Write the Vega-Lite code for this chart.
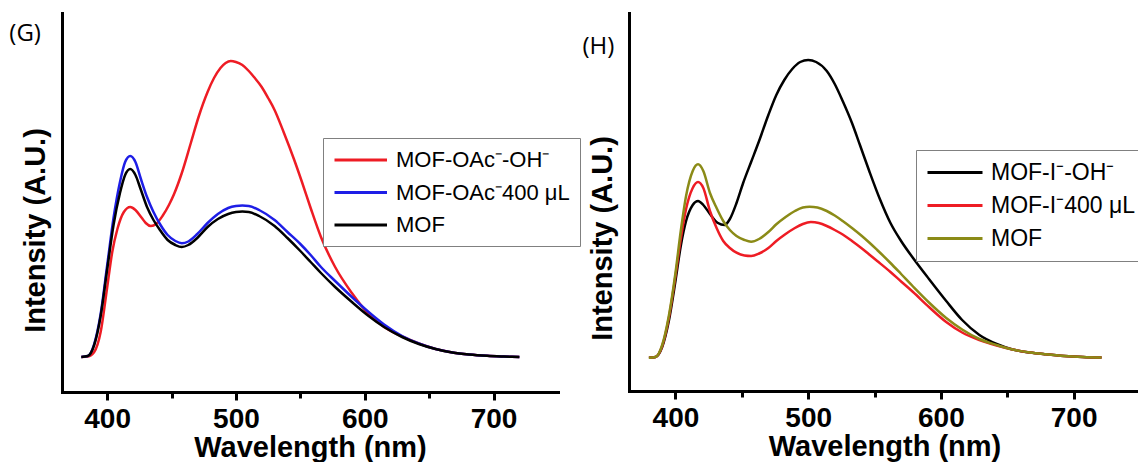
{
  "$schema": "https://vega.github.io/schema/vega-lite/v6.json",
  "background": "white",
  "padding": {"left": 9, "top": 13, "right": 0, "bottom": 0},
  "bounds": "flush",
  "spacing": 71,
  "datasets": {
    "g": [
      {"s":"MOF-OAc⁻-OH⁻","w":380,"v":35},{"s":"MOF-OAc⁻-OH⁻","w":385,"v":35.5},{"s":"MOF-OAc⁻-OH⁻","w":390,"v":40},{"s":"MOF-OAc⁻-OH⁻","w":395,"v":60},{"s":"MOF-OAc⁻-OH⁻","w":400,"v":104},{"s":"MOF-OAc⁻-OH⁻","w":404,"v":140},{"s":"MOF-OAc⁻-OH⁻","w":408,"v":163},{"s":"MOF-OAc⁻-OH⁻","w":413,"v":180},{"s":"MOF-OAc⁻-OH⁻","w":418,"v":185},{"s":"MOF-OAc⁻-OH⁻","w":422,"v":182},{"s":"MOF-OAc⁻-OH⁻","w":427,"v":174},{"s":"MOF-OAc⁻-OH⁻","w":430,"v":169},{"s":"MOF-OAc⁻-OH⁻","w":434,"v":166},{"s":"MOF-OAc⁻-OH⁻","w":438,"v":168},{"s":"MOF-OAc⁻-OH⁻","w":443,"v":176},{"s":"MOF-OAc⁻-OH⁻","w":448,"v":187},{"s":"MOF-OAc⁻-OH⁻","w":452,"v":198},{"s":"MOF-OAc⁻-OH⁻","w":458,"v":219},{"s":"MOF-OAc⁻-OH⁻","w":465,"v":249},{"s":"MOF-OAc⁻-OH⁻","w":471,"v":275},{"s":"MOF-OAc⁻-OH⁻","w":478,"v":300},{"s":"MOF-OAc⁻-OH⁻","w":483,"v":314},{"s":"MOF-OAc⁻-OH⁻","w":488,"v":324},{"s":"MOF-OAc⁻-OH⁻","w":492,"v":329},{"s":"MOF-OAc⁻-OH⁻","w":496,"v":331},{"s":"MOF-OAc⁻-OH⁻","w":500,"v":330},{"s":"MOF-OAc⁻-OH⁻","w":505,"v":327},{"s":"MOF-OAc⁻-OH⁻","w":510,"v":321},{"s":"MOF-OAc⁻-OH⁻","w":514,"v":315},{"s":"MOF-OAc⁻-OH⁻","w":520,"v":305},{"s":"MOF-OAc⁻-OH⁻","w":525,"v":294},{"s":"MOF-OAc⁻-OH⁻","w":530,"v":282},{"s":"MOF-OAc⁻-OH⁻","w":537,"v":260},{"s":"MOF-OAc⁻-OH⁻","w":545,"v":233},{"s":"MOF-OAc⁻-OH⁻","w":551,"v":211},{"s":"MOF-OAc⁻-OH⁻","w":558,"v":184},{"s":"MOF-OAc⁻-OH⁻","w":566,"v":155},{"s":"MOF-OAc⁻-OH⁻","w":577,"v":125},{"s":"MOF-OAc⁻-OH⁻","w":590,"v":99},{"s":"MOF-OAc⁻-OH⁻","w":603,"v":78},{"s":"MOF-OAc⁻-OH⁻","w":615,"v":65},{"s":"MOF-OAc⁻-OH⁻","w":629,"v":55.5},{"s":"MOF-OAc⁻-OH⁻","w":642,"v":48.5},{"s":"MOF-OAc⁻-OH⁻","w":655,"v":43},{"s":"MOF-OAc⁻-OH⁻","w":668,"v":39.5},{"s":"MOF-OAc⁻-OH⁻","w":681,"v":37.5},{"s":"MOF-OAc⁻-OH⁻","w":695,"v":36.2},{"s":"MOF-OAc⁻-OH⁻","w":708,"v":35.5},{"s":"MOF-OAc⁻-OH⁻","w":720,"v":35},
      {"s":"MOF-OAc⁻400 μL","w":380,"v":35},{"s":"MOF-OAc⁻400 μL","w":385,"v":36},{"s":"MOF-OAc⁻400 μL","w":390,"v":48},{"s":"MOF-OAc⁻400 μL","w":395,"v":78},{"s":"MOF-OAc⁻400 μL","w":400,"v":126},{"s":"MOF-OAc⁻400 μL","w":405,"v":174},{"s":"MOF-OAc⁻400 μL","w":410,"v":210},{"s":"MOF-OAc⁻400 μL","w":414,"v":230},{"s":"MOF-OAc⁻400 μL","w":418,"v":236},{"s":"MOF-OAc⁻400 μL","w":422,"v":230},{"s":"MOF-OAc⁻400 μL","w":426,"v":214},{"s":"MOF-OAc⁻400 μL","w":431,"v":195},{"s":"MOF-OAc⁻400 μL","w":436,"v":180},{"s":"MOF-OAc⁻400 μL","w":441,"v":168},{"s":"MOF-OAc⁻400 μL","w":447,"v":157},{"s":"MOF-OAc⁻400 μL","w":453,"v":151},{"s":"MOF-OAc⁻400 μL","w":458,"v":148.7},{"s":"MOF-OAc⁻400 μL","w":463,"v":150.5},{"s":"MOF-OAc⁻400 μL","w":470,"v":158},{"s":"MOF-OAc⁻400 μL","w":478,"v":169},{"s":"MOF-OAc⁻400 μL","w":486,"v":178},{"s":"MOF-OAc⁻400 μL","w":494,"v":184},{"s":"MOF-OAc⁻400 μL","w":500,"v":186},{"s":"MOF-OAc⁻400 μL","w":505,"v":186.5},{"s":"MOF-OAc⁻400 μL","w":510,"v":186},{"s":"MOF-OAc⁻400 μL","w":518,"v":182},{"s":"MOF-OAc⁻400 μL","w":530,"v":172},{"s":"MOF-OAc⁻400 μL","w":540,"v":160},{"s":"MOF-OAc⁻400 μL","w":550,"v":148},{"s":"MOF-OAc⁻400 μL","w":558,"v":137},{"s":"MOF-OAc⁻400 μL","w":566,"v":125},{"s":"MOF-OAc⁻400 μL","w":577,"v":111},{"s":"MOF-OAc⁻400 μL","w":590,"v":95},{"s":"MOF-OAc⁻400 μL","w":603,"v":80},{"s":"MOF-OAc⁻400 μL","w":615,"v":67.5},{"s":"MOF-OAc⁻400 μL","w":629,"v":56},{"s":"MOF-OAc⁻400 μL","w":642,"v":48.5},{"s":"MOF-OAc⁻400 μL","w":655,"v":43},{"s":"MOF-OAc⁻400 μL","w":668,"v":39.5},{"s":"MOF-OAc⁻400 μL","w":681,"v":37.5},{"s":"MOF-OAc⁻400 μL","w":695,"v":36.2},{"s":"MOF-OAc⁻400 μL","w":708,"v":35.5},{"s":"MOF-OAc⁻400 μL","w":720,"v":35},
      {"s":"MOF","w":380,"v":35},{"s":"MOF","w":385,"v":36},{"s":"MOF","w":390,"v":47},{"s":"MOF","w":395,"v":76},{"s":"MOF","w":400,"v":122},{"s":"MOF","w":405,"v":167},{"s":"MOF","w":410,"v":199},{"s":"MOF","w":414,"v":217},{"s":"MOF","w":418,"v":223},{"s":"MOF","w":422,"v":217},{"s":"MOF","w":426,"v":203},{"s":"MOF","w":431,"v":185},{"s":"MOF","w":436,"v":172},{"s":"MOF","w":441,"v":162},{"s":"MOF","w":447,"v":152},{"s":"MOF","w":453,"v":147},{"s":"MOF","w":458,"v":145},{"s":"MOF","w":463,"v":147},{"s":"MOF","w":470,"v":154},{"s":"MOF","w":478,"v":165},{"s":"MOF","w":486,"v":173},{"s":"MOF","w":494,"v":178},{"s":"MOF","w":500,"v":180},{"s":"MOF","w":505,"v":180.5},{"s":"MOF","w":510,"v":180},{"s":"MOF","w":518,"v":176},{"s":"MOF","w":530,"v":166},{"s":"MOF","w":540,"v":154},{"s":"MOF","w":550,"v":141},{"s":"MOF","w":558,"v":130},{"s":"MOF","w":566,"v":119},{"s":"MOF","w":577,"v":105},{"s":"MOF","w":590,"v":90},{"s":"MOF","w":603,"v":76},{"s":"MOF","w":615,"v":65},{"s":"MOF","w":629,"v":55},{"s":"MOF","w":642,"v":48},{"s":"MOF","w":655,"v":43},{"s":"MOF","w":668,"v":39.5},{"s":"MOF","w":681,"v":37.5},{"s":"MOF","w":695,"v":36.2},{"s":"MOF","w":708,"v":35.5},{"s":"MOF","w":720,"v":35}
    ],
    "h": [
      {"s":"MOF-I⁻-OH⁻","w":380,"v":33.3},{"s":"MOF-I⁻-OH⁻","w":385,"v":34},{"s":"MOF-I⁻-OH⁻","w":390,"v":44},{"s":"MOF-I⁻-OH⁻","w":395,"v":70},{"s":"MOF-I⁻-OH⁻","w":400,"v":110},{"s":"MOF-I⁻-OH⁻","w":404,"v":145},{"s":"MOF-I⁻-OH⁻","w":408,"v":170},{"s":"MOF-I⁻-OH⁻","w":413,"v":186},{"s":"MOF-I⁻-OH⁻","w":417,"v":190},{"s":"MOF-I⁻-OH⁻","w":421,"v":186},{"s":"MOF-I⁻-OH⁻","w":426,"v":177},{"s":"MOF-I⁻-OH⁻","w":432,"v":168},{"s":"MOF-I⁻-OH⁻","w":437,"v":166},{"s":"MOF-I⁻-OH⁻","w":441,"v":172},{"s":"MOF-I⁻-OH⁻","w":446,"v":188},{"s":"MOF-I⁻-OH⁻","w":451,"v":208},{"s":"MOF-I⁻-OH⁻","w":457,"v":229},{"s":"MOF-I⁻-OH⁻","w":463,"v":250},{"s":"MOF-I⁻-OH⁻","w":470,"v":276},{"s":"MOF-I⁻-OH⁻","w":476,"v":296},{"s":"MOF-I⁻-OH⁻","w":482,"v":311},{"s":"MOF-I⁻-OH⁻","w":488,"v":322},{"s":"MOF-I⁻-OH⁻","w":494,"v":329},{"s":"MOF-I⁻-OH⁻","w":500,"v":331},{"s":"MOF-I⁻-OH⁻","w":506,"v":329},{"s":"MOF-I⁻-OH⁻","w":514,"v":320},{"s":"MOF-I⁻-OH⁻","w":520,"v":307},{"s":"MOF-I⁻-OH⁻","w":526,"v":290},{"s":"MOF-I⁻-OH⁻","w":533,"v":268},{"s":"MOF-I⁻-OH⁻","w":539,"v":246},{"s":"MOF-I⁻-OH⁻","w":546,"v":220},{"s":"MOF-I⁻-OH⁻","w":554,"v":192},{"s":"MOF-I⁻-OH⁻","w":562,"v":168},{"s":"MOF-I⁻-OH⁻","w":570,"v":150},{"s":"MOF-I⁻-OH⁻","w":579,"v":133},{"s":"MOF-I⁻-OH⁻","w":591,"v":112},{"s":"MOF-I⁻-OH⁻","w":604,"v":90},{"s":"MOF-I⁻-OH⁻","w":616,"v":71},{"s":"MOF-I⁻-OH⁻","w":629,"v":56},{"s":"MOF-I⁻-OH⁻","w":642,"v":47},{"s":"MOF-I⁻-OH⁻","w":654,"v":41.5},{"s":"MOF-I⁻-OH⁻","w":667,"v":38.5},{"s":"MOF-I⁻-OH⁻","w":679,"v":36.7},{"s":"MOF-I⁻-OH⁻","w":693,"v":35},{"s":"MOF-I⁻-OH⁻","w":707,"v":34},{"s":"MOF-I⁻-OH⁻","w":721,"v":33.5},
      {"s":"MOF-I⁻400 μL","w":380,"v":33.3},{"s":"MOF-I⁻400 μL","w":385,"v":34},{"s":"MOF-I⁻400 μL","w":390,"v":45},{"s":"MOF-I⁻400 μL","w":395,"v":73},{"s":"MOF-I⁻400 μL","w":400,"v":115},{"s":"MOF-I⁻400 μL","w":404,"v":152},{"s":"MOF-I⁻400 μL","w":408,"v":182},{"s":"MOF-I⁻400 μL","w":413,"v":203},{"s":"MOF-I⁻400 μL","w":417,"v":209},{"s":"MOF-I⁻400 μL","w":421,"v":203},{"s":"MOF-I⁻400 μL","w":426,"v":180},{"s":"MOF-I⁻400 μL","w":431,"v":163},{"s":"MOF-I⁻400 μL","w":436,"v":150},{"s":"MOF-I⁻400 μL","w":441,"v":143},{"s":"MOF-I⁻400 μL","w":446,"v":138.3},{"s":"MOF-I⁻400 μL","w":452,"v":135.5},{"s":"MOF-I⁻400 μL","w":457,"v":135},{"s":"MOF-I⁻400 μL","w":463,"v":137.5},{"s":"MOF-I⁻400 μL","w":470,"v":143},{"s":"MOF-I⁻400 μL","w":476,"v":150},{"s":"MOF-I⁻400 μL","w":483,"v":157},{"s":"MOF-I⁻400 μL","w":490,"v":163},{"s":"MOF-I⁻400 μL","w":496,"v":167},{"s":"MOF-I⁻400 μL","w":502,"v":169},{"s":"MOF-I⁻400 μL","w":508,"v":168},{"s":"MOF-I⁻400 μL","w":514,"v":165},{"s":"MOF-I⁻400 μL","w":520,"v":161},{"s":"MOF-I⁻400 μL","w":526,"v":156.5},{"s":"MOF-I⁻400 μL","w":533,"v":150},{"s":"MOF-I⁻400 μL","w":540,"v":143},{"s":"MOF-I⁻400 μL","w":546,"v":136.5},{"s":"MOF-I⁻400 μL","w":552,"v":130},{"s":"MOF-I⁻400 μL","w":562,"v":119},{"s":"MOF-I⁻400 μL","w":570,"v":109.5},{"s":"MOF-I⁻400 μL","w":579,"v":99},{"s":"MOF-I⁻400 μL","w":591,"v":84},{"s":"MOF-I⁻400 μL","w":604,"v":69},{"s":"MOF-I⁻400 μL","w":616,"v":58.5},{"s":"MOF-I⁻400 μL","w":629,"v":51},{"s":"MOF-I⁻400 μL","w":642,"v":45.5},{"s":"MOF-I⁻400 μL","w":654,"v":41.5},{"s":"MOF-I⁻400 μL","w":667,"v":38.5},{"s":"MOF-I⁻400 μL","w":679,"v":36.7},{"s":"MOF-I⁻400 μL","w":693,"v":35},{"s":"MOF-I⁻400 μL","w":707,"v":34},{"s":"MOF-I⁻400 μL","w":721,"v":33.5},
      {"s":"MOF","w":380,"v":33.3},{"s":"MOF","w":385,"v":34},{"s":"MOF","w":390,"v":46},{"s":"MOF","w":395,"v":75},{"s":"MOF","w":400,"v":118},{"s":"MOF","w":404,"v":160},{"s":"MOF","w":408,"v":195},{"s":"MOF","w":413,"v":220},{"s":"MOF","w":417,"v":226.7},{"s":"MOF","w":421,"v":220},{"s":"MOF","w":426,"v":198},{"s":"MOF","w":431,"v":183},{"s":"MOF","w":436,"v":170},{"s":"MOF","w":441,"v":161},{"s":"MOF","w":446,"v":155},{"s":"MOF","w":452,"v":151},{"s":"MOF","w":457,"v":149.3},{"s":"MOF","w":463,"v":152},{"s":"MOF","w":470,"v":159},{"s":"MOF","w":476,"v":166.7},{"s":"MOF","w":483,"v":174},{"s":"MOF","w":490,"v":180},{"s":"MOF","w":496,"v":183.5},{"s":"MOF","w":501,"v":184.3},{"s":"MOF","w":507,"v":183.5},{"s":"MOF","w":514,"v":180},{"s":"MOF","w":520,"v":175.5},{"s":"MOF","w":526,"v":170},{"s":"MOF","w":533,"v":163},{"s":"MOF","w":540,"v":155.5},{"s":"MOF","w":546,"v":148.5},{"s":"MOF","w":552,"v":141},{"s":"MOF","w":562,"v":128},{"s":"MOF","w":570,"v":117},{"s":"MOF","w":579,"v":104.5},{"s":"MOF","w":591,"v":88.5},{"s":"MOF","w":604,"v":73},{"s":"MOF","w":616,"v":61.5},{"s":"MOF","w":629,"v":52},{"s":"MOF","w":642,"v":46},{"s":"MOF","w":654,"v":41.5},{"s":"MOF","w":667,"v":38.5},{"s":"MOF","w":679,"v":36.7},{"s":"MOF","w":693,"v":35},{"s":"MOF","w":707,"v":34},{"s":"MOF","w":721,"v":33.5}
    ]
  },
  "resolve": {"scale": {"color": "independent", "x": "independent", "y": "independent"}, "legend": {"color": "independent"}},
  "config": {
    "view": {"stroke": null},
    "font": "Liberation Sans",
    "axis": {"grid": false, "domainColor": "black", "domainWidth": 3, "domainCap": "square", "tickColor": "black", "tickWidth": 3, "labelColor": "black", "titleColor": "black", "labelFont": "Liberation Sans", "titleFont": "Liberation Sans", "labelFontWeight": "bold", "titleFontWeight": "bold"}
  },
  "hconcat": [
    {
      "width": 496,
      "height": 379,
      "title": {"text": "(G)", "anchor": "start", "frame": "group", "offset": -33, "dx": -52.7, "fontSize": 24, "font": "Open Sans", "fontWeight": "normal", "color": "black"},
      "data": {"name": "g"},
      "mark": {"type": "line", "interpolate": "monotone", "strokeWidth": 2.5},
      "encoding": {
        "x": {"field": "w", "type": "quantitative", "scale": {"domain": [365, 750], "nice": false, "zero": false},
          "axis": {"title": "Wavelength (nm)", "values": [400, 450, 500, 550, 600, 650, 700], "labelExpr": "datum.value % 100 === 0 ? datum.label : ''", "tickSize": {"condition": {"test": "datum.value % 100 === 0", "value": 8}, "value": 6}, "labelFontSize": 28, "titleFontSize": 29, "labelPadding": 5, "titlePadding": 0, "labelFlush": false, "labelOverlap": false}},
        "y": {"field": "v", "type": "quantitative", "scale": {"domain": [0, 379], "nice": false},
          "axis": {"title": "Intensity (A.U.)", "labels": false, "ticks": false, "titleFontSize": 29, "titlePadding": 12, "titleY": 217}},
        "color": {"field": "s", "type": "nominal",
          "scale": {"domain": ["MOF-OAc⁻-OH⁻", "MOF-OAc⁻400 μL", "MOF"], "range": ["#ee1c24", "#1e1ee6", "#000000"]},
          "legend": {"title": null, "orient": "none", "legendX": 261, "legendY": 125, "strokeColor": "#808080", "fillColor": "white", "padding": 10, "symbolType": "M-1,0H4", "symbolSize": 441, "symbolStrokeWidth": 3, "labelFont": "Liberation Sans", "labelFontSize": 22, "labelColor": "black", "labelOffset": 39, "labelLimit": 300, "rowPadding": 9.5}}
      }
    },
    {
      "width": 511,
      "height": 378,
      "title": {"text": "(H)", "anchor": "start", "frame": "group", "offset": -46, "dx": -46.6, "fontSize": 24, "font": "Open Sans", "fontWeight": "normal", "color": "black"},
      "data": {"name": "h"},
      "mark": {"type": "line", "interpolate": "monotone", "strokeWidth": 2.5},
      "encoding": {
        "x": {"field": "w", "type": "quantitative", "scale": {"domain": [365, 750], "nice": false, "zero": false},
          "axis": {"title": "Wavelength (nm)", "values": [400, 450, 500, 550, 600, 650, 700], "labelExpr": "datum.value % 100 === 0 ? datum.label : ''", "tickSize": {"condition": {"test": "datum.value % 100 === 0", "value": 8}, "value": 6}, "labelFontSize": 28, "titleFontSize": 29, "labelPadding": 5, "titlePadding": 0, "labelFlush": false, "labelOverlap": false}},
        "y": {"field": "v", "type": "quantitative", "scale": {"domain": [0, 378], "nice": false},
          "axis": {"title": "Intensity (A.U.)", "labels": false, "ticks": false, "titleFontSize": 29, "titlePadding": 12, "titleY": 225}},
        "color": {"field": "s", "type": "nominal",
          "scale": {"domain": ["MOF-I⁻-OH⁻", "MOF-I⁻400 μL", "MOF"], "range": ["#000000", "#ee1c24", "#8b8b17"]},
          "legend": {"title": null, "orient": "none", "legendX": 287, "legendY": 137, "strokeColor": "#808080", "fillColor": "white", "padding": 10, "symbolType": "M-1,0H4", "symbolSize": 484, "symbolStrokeWidth": 3, "labelFont": "Liberation Sans", "labelFontSize": 23, "labelColor": "black", "labelOffset": 40, "labelLimit": 300, "rowPadding": 8}}
      }
    }
  ]
}
